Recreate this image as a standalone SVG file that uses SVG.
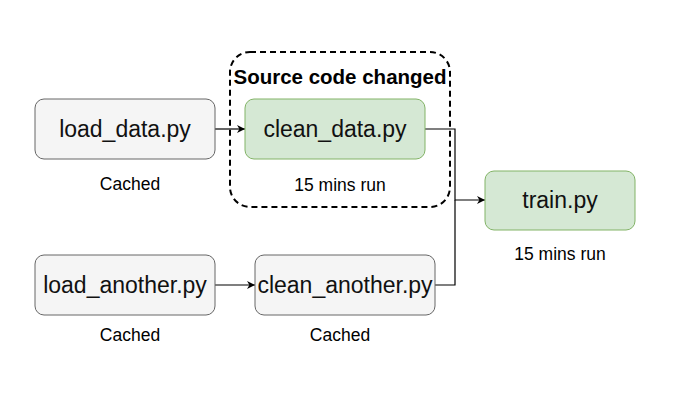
<svg xmlns="http://www.w3.org/2000/svg" width="681" height="401" viewBox="0 0 681 401">
<style>
.grey{fill:#f5f5f5;stroke:#666666;stroke-width:1}
.green{fill:#d5e8d4;stroke:#82b366;stroke-width:1}
.lbl{font-family:"Liberation Sans",Arial,Helvetica,sans-serif;font-size:23px;fill:#111;text-anchor:middle}
.sub{font-family:"Liberation Sans",Arial,Helvetica,sans-serif;font-size:17.5px;fill:#000;text-anchor:middle}
.edge{fill:none;stroke:#000;stroke-width:1.2}
</style>
<defs>
<marker id="arr" viewBox="0 0 10 10" refX="10" refY="5" markerWidth="9" markerHeight="8" markerUnits="userSpaceOnUse" orient="auto">
<path d="M0,0 L10,5 L0,10 L3,5 Z" fill="#000"/>
</marker>
</defs>
<rect width="681" height="401" fill="#ffffff"/>
<g id="group-changed">
<rect x="230" y="52" width="220" height="155" rx="20" ry="20" fill="none" stroke="#000" stroke-width="2" stroke-dasharray="6 4"/>
<text x="340" y="84" font-family="'Liberation Sans',Arial,Helvetica,sans-serif" font-size="20.5" font-weight="bold" text-anchor="middle" fill="#000">Source code changed</text>
</g>
<g id="connectors">
<line class="edge" x1="215" y1="129" x2="245" y2="129" marker-end="url(#arr)"/>
<line class="edge" x1="215" y1="285" x2="255" y2="285" marker-end="url(#arr)"/>
<polyline class="edge" points="425,129 455,129 455,200 485,200" marker-end="url(#arr)"/>
<polyline class="edge" points="435,285 455,285 455,200"/>
</g>
<g id="load_data">
<rect class="grey" x="35" y="99" width="180" height="60" rx="9" ry="9"/>
<text class="lbl" x="125" y="137">load_data.py</text>
<text class="sub" x="130" y="190">Cached</text>
</g>
<g id="clean_data">
<rect class="green" x="245" y="99" width="180" height="60" rx="9" ry="9"/>
<text class="lbl" x="335" y="137">clean_data.py</text>
<text class="sub" x="340" y="191">15 mins run</text>
</g>
<g id="load_another">
<rect class="grey" x="35" y="255" width="180" height="60" rx="9" ry="9"/>
<text class="lbl" x="125" y="293">load_another.py</text>
<text class="sub" x="130" y="341">Cached</text>
</g>
<g id="clean_another">
<rect class="grey" x="255" y="255" width="180" height="60" rx="9" ry="9"/>
<text class="lbl" x="345" y="293">clean_another.py</text>
<text class="sub" x="340" y="341">Cached</text>
</g>
<g id="train">
<rect class="green" x="485" y="171" width="150" height="59" rx="9" ry="9"/>
<text class="lbl" x="560" y="208">train.py</text>
<text class="sub" x="560" y="260">15 mins run</text>
</g>
</svg>
